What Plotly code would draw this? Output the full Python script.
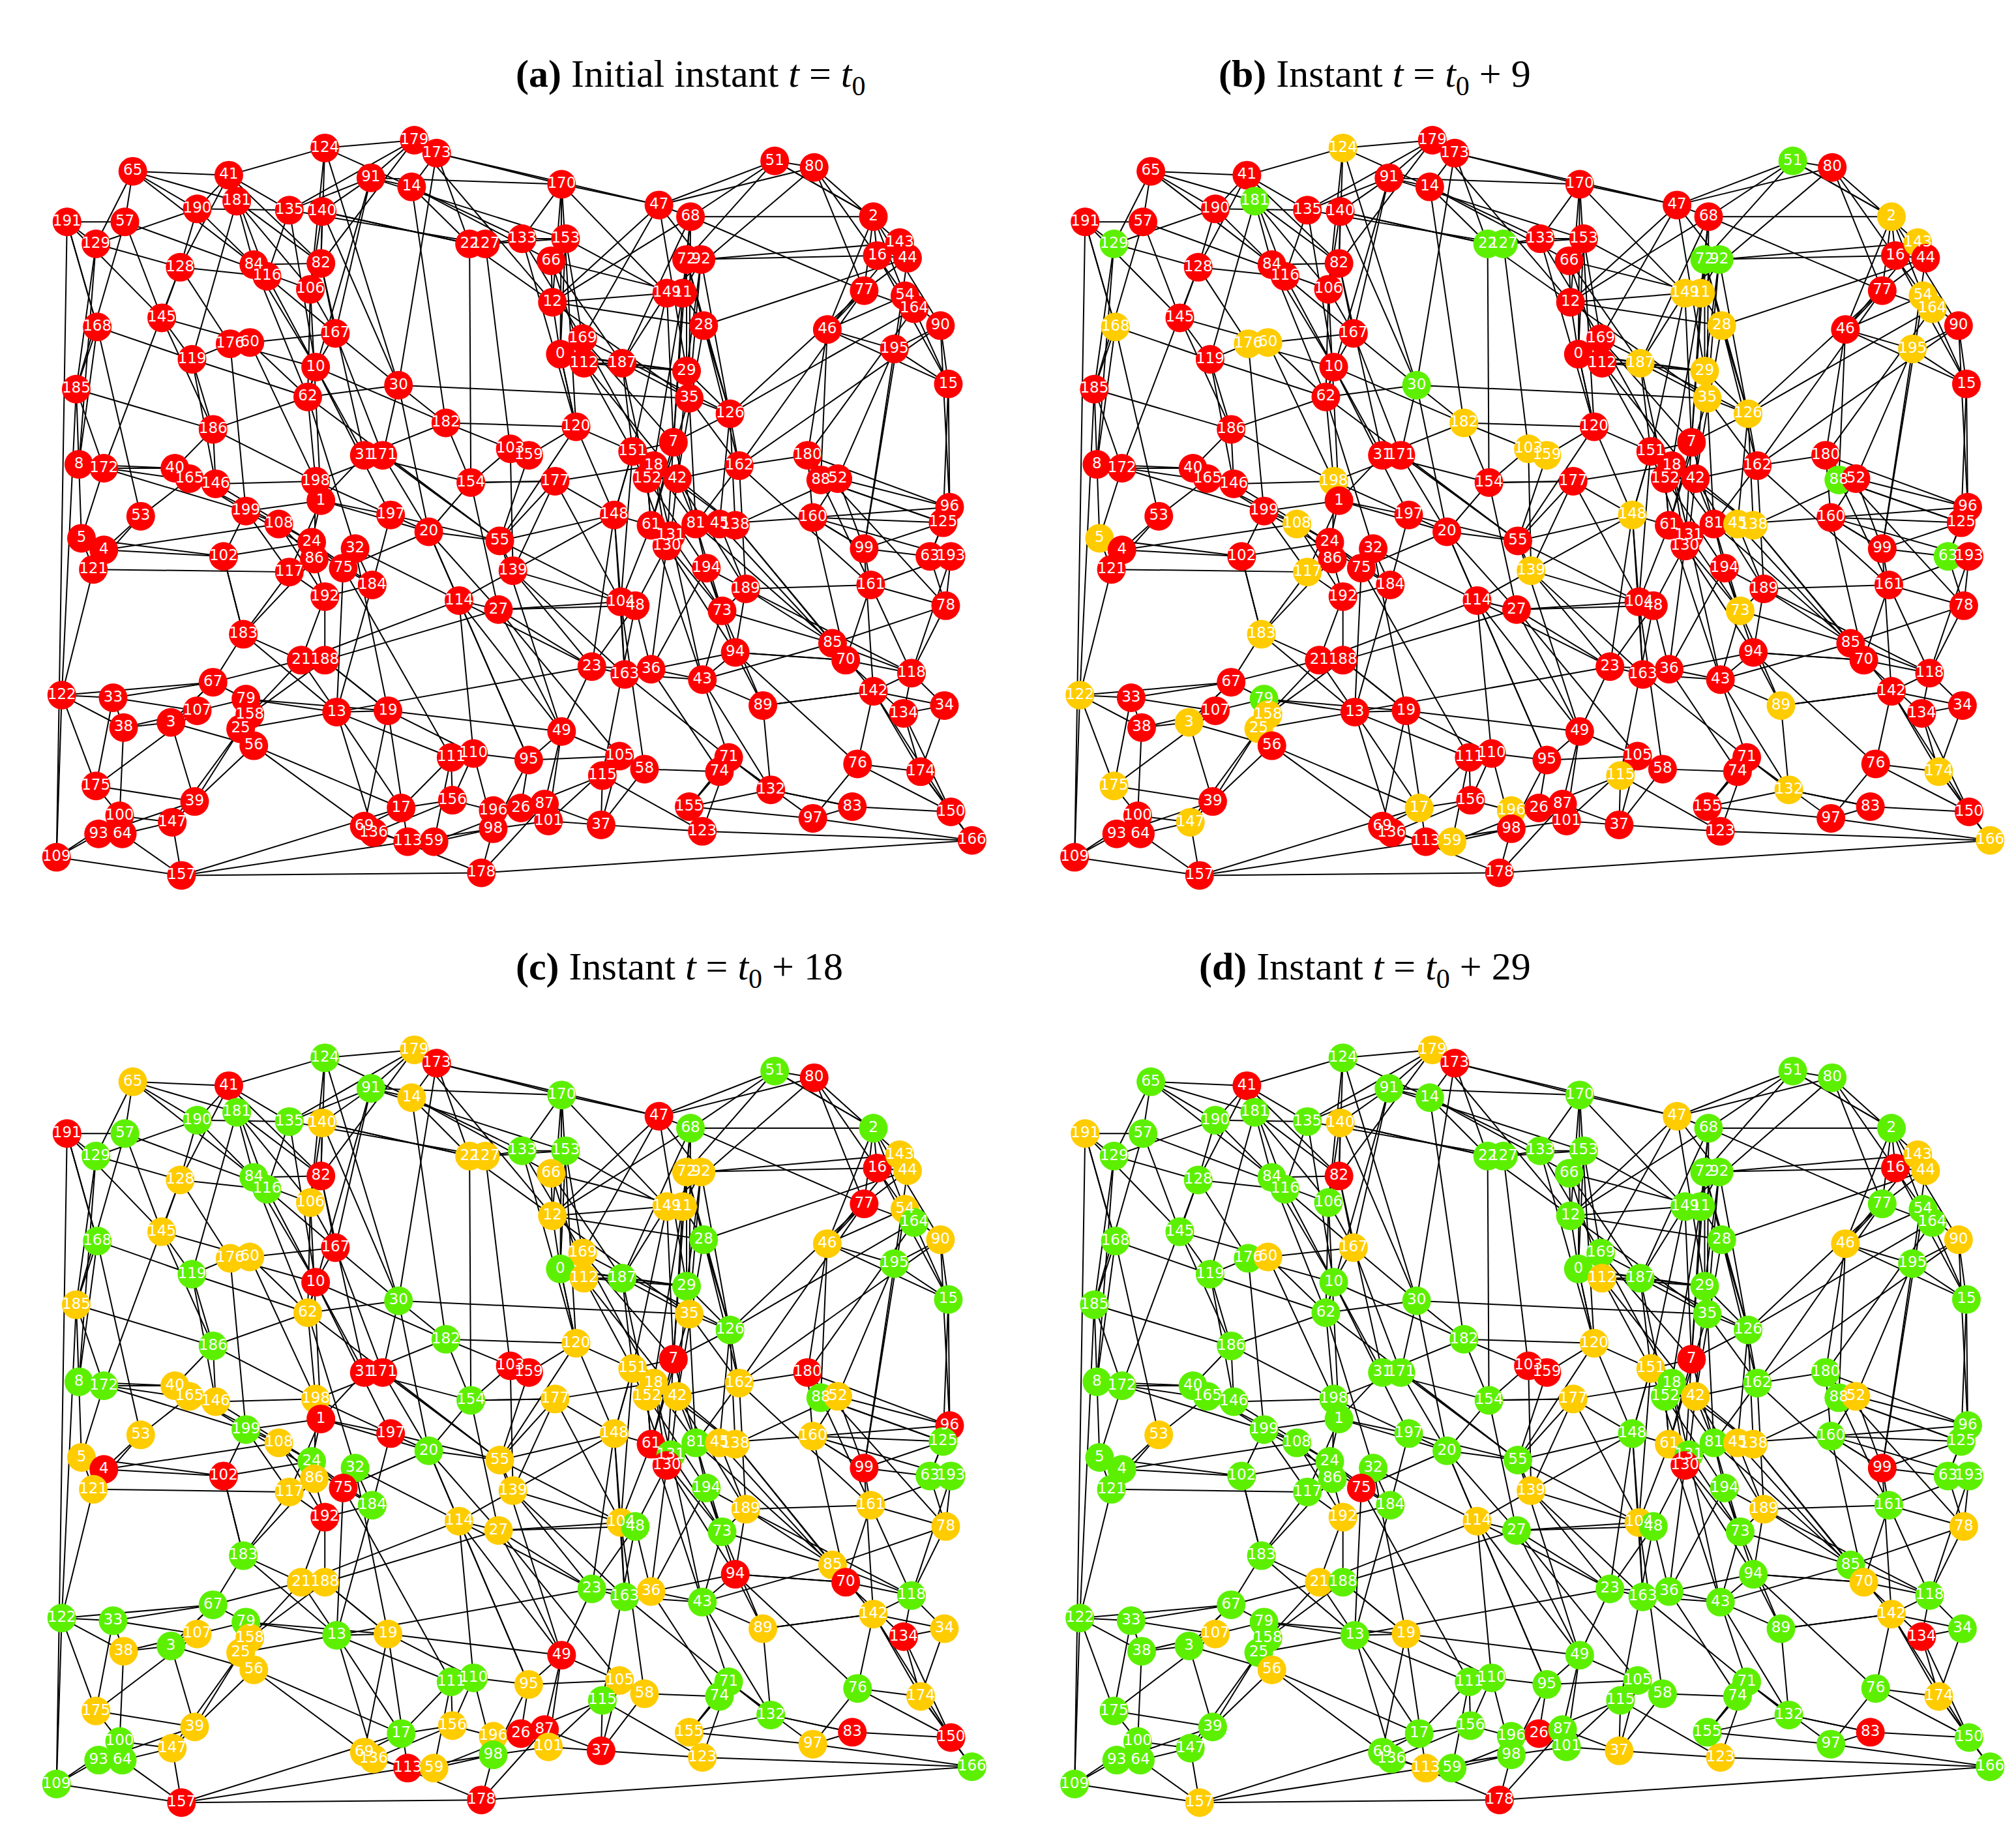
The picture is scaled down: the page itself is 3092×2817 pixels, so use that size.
import plotly.graph_objects as go
from plotly.subplots import make_subplots

# node id, x, y (layout coordinates; y grows downward)
nodes = [
    (65, 94, 131), (41, 167, 134), (124, 240, 113), (179, 308, 107), (173, 325, 117),
    (91, 275, 136), (14, 306, 143), (170, 420, 141), (51, 582, 123), (80, 612, 128),
    (47, 494, 157), (68, 518, 166), (2, 657, 166), (191, 44, 170), (57, 88, 170),
    (129, 66, 187), (190, 143, 160), (181, 173, 154), (135, 213, 161), (140, 238, 162),
    (22, 350, 187), (127, 362, 187), (133, 390, 183), (153, 423, 183), (66, 412, 200),
    (72, 515, 199), (92, 526, 199), (16, 660, 196), (143, 677, 186), (44, 683, 198),
    (128, 130, 205), (84, 186, 203), (116, 196, 212), (82, 237, 202), (106, 229, 222),
    (12, 413, 232), (149, 500, 225), (11, 512, 225), (28, 528, 250), (77, 650, 223),
    (54, 681, 227), (164, 688, 237), (90, 708, 250), (46, 622, 253), (145, 116, 244),
    (168, 67, 251), (176, 168, 264), (60, 183, 263), (167, 248, 256), (169, 436, 260),
    (0, 419, 272), (112, 437, 279), (187, 466, 279), (29, 515, 285), (195, 673, 268),
    (15, 714, 295), (119, 139, 276), (10, 233, 282), (185, 51, 299), (30, 296, 296),
    (62, 227, 305), (35, 517, 306), (126, 548, 318), (186, 155, 330), (182, 332, 325),
    (120, 431, 328), (7, 505, 340), (31, 270, 350), (171, 284, 350), (103, 381, 345),
    (159, 395, 350), (151, 474, 347), (18, 490, 358), (152, 485, 368), (42, 508, 368),
    (162, 555, 358), (180, 607, 350), (88, 617, 369), (52, 630, 368), (8, 53, 357),
    (172, 72, 360), (40, 126, 360), (165, 137, 368), (146, 157, 372), (154, 351, 371),
    (177, 415, 370), (198, 233, 370), (1, 237, 385), (199, 180, 393), (197, 290, 396),
    (96, 715, 390), (53, 100, 397), (108, 205, 403), (148, 460, 396), (61, 488, 404),
    (81, 522, 403), (45, 540, 403), (138, 552, 404), (160, 611, 398), (125, 710, 402),
    (20, 319, 409), (24, 230, 417), (32, 263, 422), (55, 373, 416), (131, 503, 412),
    (130, 500, 420), (99, 650, 422), (5, 55, 414), (4, 72, 423), (102, 163, 428),
    (86, 232, 430), (75, 254, 437), (117, 213, 440), (63, 700, 428), (193, 716, 428),
    (121, 64, 438), (139, 383, 439), (194, 530, 437), (189, 560, 453), (161, 655, 450),
    (192, 240, 459), (184, 276, 450), (114, 342, 462), (27, 372, 469), (104, 465, 463),
    (48, 476, 466), (73, 542, 470), (78, 712, 466), (183, 178, 488), (21, 222, 508),
    (188, 240, 508), (94, 552, 502), (23, 443, 513), (163, 468, 519), (36, 488, 515),
    (43, 527, 523), (85, 626, 495), (70, 636, 508), (118, 686, 518), (142, 657, 532),
    (67, 155, 525), (33, 79, 537), (122, 40, 535), (79, 180, 538), (107, 143, 547),
    (158, 183, 550), (13, 249, 548), (19, 288, 547), (3, 123, 556), (38, 87, 560),
    (25, 176, 561), (56, 186, 574), (89, 573, 543), (134, 680, 549), (34, 711, 543),
    (49, 420, 563), (111, 336, 583), (110, 353, 580), (95, 395, 585), (105, 464, 582),
    (58, 483, 592), (71, 547, 583), (115, 451, 597), (74, 540, 594), (76, 645, 588),
    (132, 579, 608), (174, 693, 594), (175, 66, 605), (39, 141, 617), (155, 517, 621),
    (156, 337, 616), (196, 368, 624), (26, 389, 622), (87, 407, 619), (17, 298, 622),
    (83, 641, 621), (97, 611, 630), (150, 716, 625), (100, 84, 628), (147, 124, 633),
    (69, 270, 636), (136, 277, 641), (98, 368, 638), (101, 410, 632), (37, 450, 635),
    (123, 527, 640), (166, 732, 647), (93, 68, 642), (64, 86, 642), (113, 303, 648),
    (59, 323, 648), (109, 36, 660), (157, 131, 674), (178, 359, 672),
]
node_ids = [n[0] for n in nodes]
node_x = [n[1] for n in nodes]
node_y = [n[2] for n in nodes]

edges_text = """
191-129 191-109 191-57 191-168 129-185 129-190 168-185 168-8 185-8 185-122 8-5 8-172 5-121 121-122
122-175 122-109 109-93 109-157 175-100 175-33 100-64 93-64 64-157 157-147 157-178 157-113 178-98 178-166
166-150 166-97 166-123 150-174 174-134 134-34 34-118 118-142 142-76 76-174 96-125 125-63 63-193 193-78
78-118 78-161 15-90 15-195 15-164 90-54 54-2 2-16 2-51 51-80 80-47 51-68 80-143 143-44 44-77 77-46
65-41 65-57 65-181 41-190 41-124 124-179 179-173 173-14 14-91 91-135 91-170 170-47 170-133 47-68 68-72
92-11 11-149 149-12 12-66 66-153 153-133 133-127 127-22 22-140 140-82 82-84 84-116 116-128 128-145
145-119 119-176 176-60 60-167 167-10 10-62 62-30 30-182 182-31 31-171 171-198 198-1 1-199 199-108
108-24 24-86 86-117 117-192 192-184 184-32 32-75 75-20 20-55 55-139 139-114 114-27 27-104 104-48
48-23 23-163 163-36 36-43 43-94 94-89 89-132 132-71 71-74 74-58 58-105 105-115 115-37 37-123 123-155
155-71 49-95 95-110 110-111 111-156 156-196 196-26 26-87 87-101 101-98 98-59 59-113 113-136 136-69
69-17 17-13 13-19 19-188 188-21 21-183 183-67 67-79 79-158 158-25 25-56 56-3 3-107 107-38 38-33
33-67 39-147 39-25 147-100 3-39 0-169 169-112 112-187 187-29 29-35 35-126 126-7 7-151 151-18 18-152
152-42 42-162 162-180 180-88 88-52 52-160 160-99 99-161 161-189 189-73 73-194 194-81 81-45 45-138
138-131 131-130 130-61 61-148 148-177 177-154 154-103 103-159 159-120 120-0 172-40 40-165 165-146
146-186 186-119 53-4 4-102 102-199 53-165 5-4 1-197 197-184 197-20 2-77 54-164 46-195 28-126 28-72
65-129 190-135 181-106 106-82 106-167 41-128 57-145 14-22 179-12 173-47 124-30 91-62 135-10 140-30
12-0 169-7 7-61 18-81 42-138 35-162 29-126 151-148 177-139 120-55 55-148 148-104 61-73 131-43 130-36
23-49 49-105 95-105 110-156 26-115 87-37 101-37 17-156 13-111 19-110 21-13 188-19 183-102 67-3 79-13
158-21 38-100 33-122 121-53 172-5 8-40 40-186 186-62 146-198 102-24 117-1 192-188 75-13 32-114 20-27
27-23 114-49 139-104 148-23 104-163 48-36 43-71 94-76 89-142 70-85 85-189 70-134 118-85 142-174
83-97 83-132 97-155 150-142 161-70 99-63 160-193 96-180 125-88 15-96 164-126 90-162 195-99 46-180
2-46 16-44 77-126 11-28 149-187 92-29 72-7 68-12 47-169 170-0 133-120 153-169 66-187 22-154 127-103
31-1 171-20 198-86 199-184 108-192 24-75 62-32 10-182 167-171 60-198 176-199 119-146 145-186 128-172
116-10 84-62 82-31 106-1 181-119 190-128 191-168 57-185 129-8 168-53 185-172 124-14 179-135 173-170
51-2 80-54 68-77 47-92 170-149 14-66 91-153 135-127 140-22 41-82 65-190 181-84 12-35 0-29 112-42
187-151 169-18 182-154 30-20 62-55 10-197 1-24 86-183 192-21 184-13 32-19 75-111 20-95 55-49 139-23
114-110 27-105 104-58 48-115 163-71 36-74 43-132 73-89 194-94 81-85 45-70 138-142 189-118 61-43
130-94 131-73 152-194 42-189 162-161 180-78 88-125 52-96 160-99 151-130 18-138 7-81 126-45 35-61
65-84 41-116 57-106 129-128 191-145 168-119 185-186 8-146 172-199 5-102 4-108 121-117 122-67 175-107
109-100 93-39 64-147 157-17 178-87 178-69 113-98 59-26 136-156 69-19 17-111 98-95 101-49 37-105
123-71 155-132 97-76 150-83 166-174 34-142 118-70 78-85 96-63 125-160 193-161 15-46 90-195 164-77
54-46 44-28 143-92 16-72 2-68 80-149 51-47 170-12 153-0 133-169 66-112 22-12 127-153 14-133 91-140
179-91 173-22 124-82 135-116 140-106 41-135 181-82 190-84 176-10 60-62 167-30 10-31 62-198 30-171
182-103 154-177 20-154 55-177 139-148 27-48 114-23 104-61 48-130 23-36 163-43 36-94 43-89 94-70
73-85 194-189 81-162 45-160 138-52 61-152 131-42 130-18 148-151 177-18 120-151 0-187 112-29 187-35
169-126 12-28 66-11 153-149 30-35 182-120 31-154 171-55 1-20 197-55 198-197 24-184 86-192 117-183
102-183 199-117 108-86 146-24 165-108 40-199 186-198 119-62 145-60 128-176 116-167 84-10 82-167
106-62 124-106 179-82 173-30 14-182 91-167 170-120 47-29 68-35 72-126 92-162 11-7 149-151 28-42
77-162 46-88 195-52 15-125 90-96 164-180 54-99 143-46 44-195 16-15 2-90 51-72 80-77 47-12 68-187
13-23 19-49 188-27 21-114 183-13 67-21 79-19 158-188 25-13 56-17 3-67 107-79 38-3 33-107 122-38
175-39 100-93 147-25 39-56 56-69 13-136 19-113 111-59 110-98 95-26 49-87 105-101 58-37 115-123
74-155 71-97 132-83 76-150 174-166 134-150 34-174 118-134 142-89 70-94 85-43 189-94 73-43 194-36
81-73 45-189 138-85 160-70 99-142 161-118 63-78 193-118 125-99 96-160 88-161 52-99 180-160 162-189
7-130 18-131 152-61 42-81 151-104 148-163 177-104 55-104 139-163 114-95 27-49 20-114 154-27 103-139
159-55 120-148 0-120 112-151 187-152 29-42 35-81 126-138 28-162 11-18 149-7 92-35 72-29 68-11
"""
edges = [tuple(int(v) for v in e.split("-")) for e in edges_text.split()]

# colour state per panel: ids listed as yellow / green; everything else red
yellow_b = [124, 2, 143, 54, 164, 195, 168, 176, 60, 187, 29, 35, 126, 182, 149, 11, 28, 198, 108, 117,
            148, 45, 138, 139, 73, 183, 3, 25, 158, 89, 174, 166, 132, 115, 147, 175, 122, 17, 59, 196,
            5, 159, 103]
green_b = [51, 181, 129, 22, 127, 72, 92, 30, 88, 63, 79]

red_c = [41, 173, 191, 80, 47, 16, 77, 82, 167, 10, 7, 31, 171, 1, 197, 75, 192, 102, 4, 180, 96, 99,
         94, 70, 134, 49, 87, 26, 37, 83, 150, 157, 178, 113, 61, 130, 103, 159]
yellow_c = [65, 179, 140, 14, 22, 127, 66, 12, 149, 11, 92, 72, 143, 44, 54, 90, 46, 128, 106, 145, 176,
            60, 169, 112, 62, 35, 185, 120, 151, 18, 42, 152, 162, 52, 53, 40, 165, 146, 108, 198, 55,
            139, 148, 177, 160, 45, 138, 121, 5, 117, 86, 114, 27, 104, 189, 161, 78, 21, 188, 85, 142,
            34, 36, 89, 107, 158, 25, 56, 19, 38, 175, 147, 39, 95, 105, 58, 174, 123, 155, 97, 101,
            196, 156, 59, 136, 69]

red_d = [41, 173, 82, 16, 75, 99, 7, 103, 159, 130, 134, 83, 26, 178]
yellow_d = [179, 191, 140, 47, 143, 44, 90, 60, 167, 46, 112, 120, 151, 42, 52, 53, 177, 61, 138, 45,
            189, 192, 114, 104, 139, 21, 70, 78, 142, 174, 107, 56, 19, 113, 37, 123, 157]

titles = [
    "<b>(a)</b> Initial instant <i>t</i> = <i>t</i><sub>0</sub>",
    "<b>(b)</b> Instant <i>t</i> = <i>t</i><sub>0</sub> + 9",
    "<b>(c)</b> Instant <i>t</i> = <i>t</i><sub>0</sub> + 18",
    "<b>(d)</b> Instant <i>t</i> = <i>t</i><sub>0</sub> + 29",
]

RED, YELLOW, GREEN = "#ff0000", "#ffcc00", "#5cf000"


def colours(panel):
    out = []
    for n in node_ids:
        if panel == 0:
            out.append(RED)
        elif panel == 1:
            out.append(YELLOW if n in yellow_b else GREEN if n in green_b else RED)
        elif panel == 2:
            out.append(RED if n in red_c else YELLOW if n in yellow_c else GREEN)
        else:
            out.append(RED if n in red_d else YELLOW if n in yellow_d else GREEN)
    return out


pos = {n: (x, y) for n, x, y in nodes}
ex, ey = [], []
for a, b in edges:
    if a in pos and b in pos:
        ex += [pos[a][0], pos[b][0], None]
        ey += [pos[a][1], pos[b][1], None]

fig = make_subplots(rows=2, cols=2)
for i in range(4):
    r, c = i // 2 + 1, i % 2 + 1
    fig.add_trace(go.Scatter(x=ex, y=ey, mode="lines", line=dict(color="black", width=2),
                             hoverinfo="skip", showlegend=False), row=r, col=c)
    fig.add_trace(go.Scatter(x=node_x, y=node_y, mode="markers+text", text=[str(n) for n in node_ids],
                             marker=dict(size=44, color=colours(i), line=dict(width=0)),
                             textfont=dict(color="white", size=23, family="DejaVu Sans"),
                             textposition="middle center", showlegend=False), row=r, col=c)

doms_x = [[0.015, 0.49], [0.52, 0.995], [0.015, 0.49], [0.52, 0.995]]
doms_y = [[0.515, 0.935], [0.515, 0.935], [0.01, 0.44], [0.01, 0.44]]
for i in range(4):
    sfx = "" if i == 0 else str(i + 1)
    fig.layout["xaxis" + sfx].update(domain=doms_x[i], range=[20, 748], visible=False)
    fig.layout["yaxis" + sfx].update(domain=doms_y[i], range=[690, 95], visible=False)
    fig.add_annotation(text=titles[i], xref="paper", yref="paper",
                       x=sum(doms_x[i]) / 2, y=[0.975, 0.975, 0.475, 0.475][i],
                       showarrow=False, font=dict(size=60, family="Liberation Serif", color="black"))

fig.update_layout(width=3092, height=2817, plot_bgcolor="white", paper_bgcolor="white",
                  margin=dict(l=0, r=0, t=0, b=0))
fig.write_html("out.html")
